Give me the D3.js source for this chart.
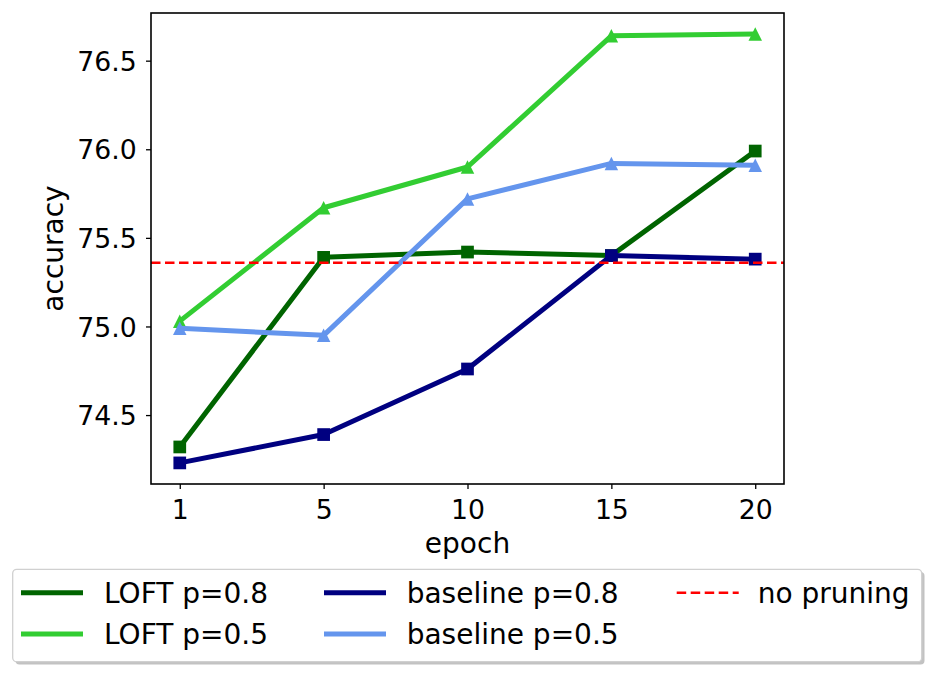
<!DOCTYPE html>
<html>
<head>
<meta charset="utf-8">
<script src="https://cdn.jsdelivr.net/npm/d3@7"></script>
<style>
  body { margin: 0; background: #fff; }
  svg { display: block; font-family: "DejaVu Sans", sans-serif; }
</style>
</head>
<body>
<svg id="chart" width="935" height="674"></svg>
<script>
// ---- data ----
const epochs = ["1", "5", "10", "15", "20"];
const loft08 = [74.32, 75.39, 75.42, 75.40, 75.99];
const loft05 = [75.03, 75.67, 75.90, 76.64, 76.65];
const base08 = [74.23, 74.39, 74.76, 75.40, 75.38];
const base05 = [74.99, 74.95, 75.72, 75.92, 75.91];
const noPruning = 75.36;
const yTicks = [74.5, 75.0, 75.5, 76.0, 76.5];
const seriesNames = ["LOFT p=0.8", "LOFT p=0.5", "baseline p=0.8", "baseline p=0.5"];
const refName = "no pruning";

// ---- layout ----
const svg = d3.select("#chart");
const L = 151, R = 784, T = 13, B = 484;

const x = d3.scalePoint().domain(epochs).range([L, R]).padding(0.2);
const y = d3.scaleLinear().domain([74.111, 76.769]).range([B, T]);

const series = [
  { name: seriesNames[0], values: loft08, color: "#006400", marker: "square" },
  { name: seriesNames[1], values: loft05, color: "#32CD32", marker: "triangle" },
  { name: seriesNames[2], values: base08, color: "#000080", marker: "square" },
  { name: seriesNames[3], values: base05, color: "#6495ED", marker: "triangle" }
];

const plot = svg.append("g");

// lines and markers
const line = d3.line().x((d, i) => x(epochs[i])).y(d => y(d));
series.forEach(s => {
  plot.append("path")
    .attr("d", line(s.values))
    .attr("fill", "none")
    .attr("stroke", s.color)
    .attr("stroke-width", 5)
    .attr("stroke-linejoin", "round");
  const ms = 12.7;
  s.values.forEach((v, i) => {
    const cx = x(epochs[i]), cy = y(v);
    if (s.marker === "square") {
      plot.append("rect")
        .attr("x", cx - ms / 2).attr("y", cy - ms / 2)
        .attr("width", ms).attr("height", ms)
        .attr("fill", s.color);
    } else {
      const h = 13.5;
      plot.append("path")
        .attr("d", `M${cx},${cy - h / 2}L${cx - h / 2},${cy + h / 2}L${cx + h / 2},${cy + h / 2}Z`)
        .attr("fill", s.color);
    }
  });
});

// reference line
plot.append("line")
  .attr("x1", L).attr("x2", R)
  .attr("y1", y(noPruning)).attr("y2", y(noPruning))
  .attr("stroke", "#ff0000")
  .attr("stroke-width", 2.5)
  .attr("stroke-dasharray", "9.5,4.5");

// frame
svg.append("rect")
  .attr("x", L).attr("y", T).attr("width", R - L).attr("height", B - T)
  .attr("fill", "none").attr("stroke", "#000").attr("stroke-width", 1.6);

// axes
const xAxis = svg.append("g")
  .attr("transform", `translate(0,${B})`)
  .call(d3.axisBottom(x).tickSize(5).tickPadding(11));
xAxis.select(".domain").remove();
xAxis.selectAll("line").attr("stroke", "#000").attr("stroke-width", 1.3);
xAxis.selectAll("text").attr("font-size", 26.7).attr("fill", "#000")
  .attr("font-family", "DejaVu Sans");

const yAxis = svg.append("g")
  .attr("transform", `translate(${L},0)`)
  .call(d3.axisLeft(y).tickValues(yTicks).tickFormat(d3.format(".1f")).tickSize(5).tickPadding(9.3));
yAxis.select(".domain").remove();
yAxis.selectAll("line").attr("stroke", "#000").attr("stroke-width", 1.3);
yAxis.selectAll("text").attr("font-size", 26.7).attr("fill", "#000")
  .attr("font-family", "DejaVu Sans").attr("dy", "0.36em");

// axis labels
svg.append("text")
  .attr("x", (L + R) / 2).attr("y", 553)
  .attr("text-anchor", "middle")
  .attr("font-size", 28).text("epoch");
svg.append("text")
  .attr("transform", `translate(63.3,${(T + B) / 2}) rotate(-90)`)
  .attr("text-anchor", "middle")
  .attr("font-size", 28).text("accuracy");

// legend
const lg = svg.append("g");
lg.append("rect")
  .attr("x", 15.5).attr("y", 572).attr("width", 909).attr("height", 92.4)
  .attr("rx", 4).attr("fill", "#999").attr("opacity", 0.6);
lg.append("rect")
  .attr("x", 12.7).attr("y", 569.3).attr("width", 909).attr("height", 92.4)
  .attr("rx", 4).attr("fill", "#fff").attr("stroke", "#d0d0d0").attr("stroke-width", 1.3);

const legendItems = [
  { name: series[0].name, color: series[0].color, lx: 21, tx: 104, ly: 592.7, ty: 602.7, dash: null },
  { name: series[1].name, color: series[1].color, lx: 21, tx: 104, ly: 634, ty: 644, dash: null },
  { name: series[2].name, color: series[2].color, lx: 324, tx: 406.7, ly: 592.7, ty: 602.7, dash: null },
  { name: series[3].name, color: series[3].color, lx: 324, tx: 406.7, ly: 634, ty: 644, dash: null },
  { name: refName, color: "#ff0000", lx: 676.7, tx: 757.7, ly: 592.7, ty: 602.7, dash: "9.5,4.5" }
];
legendItems.forEach(it => {
  lg.append("line")
    .attr("x1", it.lx).attr("x2", it.lx + 62)
    .attr("y1", it.ly).attr("y2", it.ly)
    .attr("stroke", it.color)
    .attr("stroke-width", it.dash ? 2.5 : 5)
    .attr("stroke-dasharray", it.dash);
  lg.append("text")
    .attr("x", it.tx).attr("y", it.ty)
    .attr("font-size", 28).attr("fill", "#000")
    .text(it.name);
});
</script>
</body>
</html>
